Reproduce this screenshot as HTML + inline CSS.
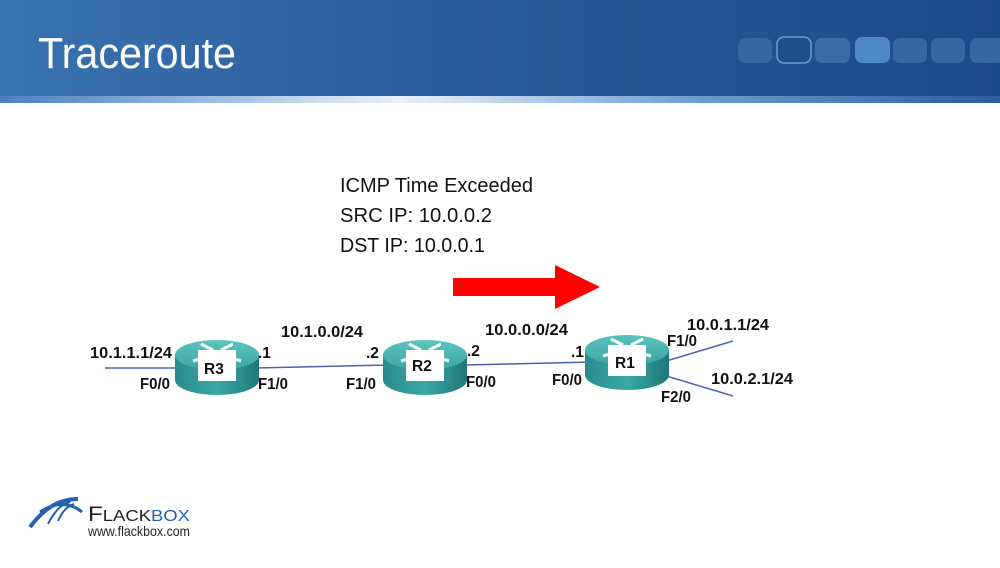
<!DOCTYPE html>
<html><head><style>
body{margin:0;width:1000px;height:563px;overflow:hidden;background:#fff;font-family:"Liberation Sans",sans-serif}
</style></head><body>
<svg width="1000" height="563" xmlns="http://www.w3.org/2000/svg">
<defs>
<linearGradient id="hd" x1="0" y1="0" x2="1" y2="0"><stop offset="0" stop-color="#3a72b0"/><stop offset="0.5" stop-color="#275a98"/><stop offset="1" stop-color="#1b4a8a"/></linearGradient>
<linearGradient id="st" x1="0" y1="0" x2="1" y2="0"><stop offset="0" stop-color="#4a80c0"/><stop offset="0.4" stop-color="#e8f2fb"/><stop offset="0.7" stop-color="#6b9bd0"/><stop offset="1" stop-color="#2b5d9c"/></linearGradient>
<linearGradient id="cyl" x1="0" y1="0" x2="1" y2="0"><stop offset="0" stop-color="#2a8a8a"/><stop offset="0.5" stop-color="#3aa9a6"/><stop offset="1" stop-color="#1f7676"/></linearGradient>
<linearGradient id="top" x1="0" y1="0" x2="0" y2="1"><stop offset="0" stop-color="#5cc3be"/><stop offset="1" stop-color="#3aa6a2"/></linearGradient>
<g id="rt">
<path d="M-42,0 L-42,25 A42,15 0 0 0 42,25 L42,0 Z" fill="url(#cyl)"/>
<ellipse cx="0" cy="0" rx="42" ry="15" fill="url(#top)"/>
<path d="M-16,-11 L-4,-5 M16,-11 L4,-5 M-24,6 L-10,2 M24,6 L10,2" stroke="#fff" stroke-width="3"/>
<rect x="-19" y="-5" width="38" height="31" fill="#fff"/>
</g>
</defs>
<rect x="0" y="0" width="1000" height="98" fill="url(#hd)"/>
<rect x="0" y="96" width="1000" height="7" fill="url(#st)"/>
<text x="38" y="68" font-size="44" fill="#fff" textLength="198" lengthAdjust="spacingAndGlyphs">Traceroute</text>
<g>
<rect x="738" y="38" width="34" height="25" rx="7" fill="#3567a3"/>
<rect x="777" y="37" width="34" height="26" rx="7" fill="#1e4f8d" stroke="#6e9acc" stroke-width="1.5"/>
<rect x="815" y="38" width="35" height="25" rx="7" fill="#3a6ca8"/>
<rect x="855" y="37" width="35" height="26" rx="7" fill="#4f88c4"/>
<rect x="893" y="38" width="34" height="25" rx="7" fill="#3567a3"/>
<rect x="931" y="38" width="34" height="25" rx="7" fill="#3567a3"/>
<rect x="970" y="38" width="34" height="25" rx="7" fill="#3567a3"/>
</g>
<g font-size="20" fill="#111">
<text x="340" y="192" textLength="193" lengthAdjust="spacingAndGlyphs">ICMP Time Exceeded</text>
<text x="340" y="222" textLength="152" lengthAdjust="spacingAndGlyphs">SRC IP: 10.0.0.2</text>
<text x="340" y="252" textLength="145" lengthAdjust="spacingAndGlyphs">DST IP: 10.0.0.1</text>
</g>
<rect x="453" y="278" width="105" height="18" fill="#f00"/>
<polygon points="555,265 600,287 555,309" fill="#f00"/>
<g stroke="#4a64b0" stroke-width="1.5">
<line x1="105" y1="368" x2="180" y2="368"/>
<line x1="255" y1="368" x2="390" y2="365"/>
<line x1="465" y1="365" x2="592" y2="362"/>
<line x1="663" y1="362" x2="733" y2="341"/>
<line x1="663" y1="375" x2="733" y2="396"/>
</g>
<use href="#rt" x="217" y="355"/>
<use href="#rt" x="425" y="355"/>
<use href="#rt" x="627" y="350"/>
<g font-size="15.5" font-weight="bold" fill="#111" lengthAdjust="spacingAndGlyphs">
<text x="204" y="374">R3</text><text x="412" y="371">R2</text><text x="615" y="368">R1</text>
<text x="90" y="358" textLength="82" lengthAdjust="spacingAndGlyphs">10.1.1.1/24</text>
<text x="140" y="389" textLength="30" lengthAdjust="spacingAndGlyphs">F0/0</text>
<text x="258" y="358">.1</text>
<text x="258" y="389" textLength="30" lengthAdjust="spacingAndGlyphs">F1/0</text>
<text x="281" y="337" textLength="82" lengthAdjust="spacingAndGlyphs">10.1.0.0/24</text>
<text x="366" y="358">.2</text>
<text x="346" y="389" textLength="30" lengthAdjust="spacingAndGlyphs">F1/0</text>
<text x="467" y="356">.2</text>
<text x="466" y="387" textLength="30" lengthAdjust="spacingAndGlyphs">F0/0</text>
<text x="485" y="335" textLength="83" lengthAdjust="spacingAndGlyphs">10.0.0.0/24</text>
<text x="571" y="357">.1</text>
<text x="552" y="385" textLength="30" lengthAdjust="spacingAndGlyphs">F0/0</text>
<text x="687" y="330" textLength="82" lengthAdjust="spacingAndGlyphs">10.0.1.1/24</text>
<text x="667" y="346" textLength="30" lengthAdjust="spacingAndGlyphs">F1/0</text>
<text x="711" y="384" textLength="82" lengthAdjust="spacingAndGlyphs">10.0.2.1/24</text>
<text x="661" y="402" textLength="30" lengthAdjust="spacingAndGlyphs">F2/0</text>
</g>
<g>
<path d="M30,527 C45,507 60,499 78,499" stroke="#2660b0" stroke-width="4" fill="none"/>
<path d="M48,524 C55,510 62,504 70,502 M58,521 C63,510 68,506 74,504" stroke="#2660b0" stroke-width="2" fill="none"/>
<path d="M40,512 C55,502 70,502 82,512" stroke="#2660b0" stroke-width="3" fill="none"/>
<text x="88" y="521" font-size="21" fill="#222" textLength="102" lengthAdjust="spacingAndGlyphs">F<tspan font-size="16">LACK</tspan><tspan font-size="16" fill="#2660b0">BOX</tspan></text>
<text x="88" y="536" font-size="14" fill="#222" textLength="102" lengthAdjust="spacingAndGlyphs">www.flackbox.com</text>
</g>
</svg>
</body></html>
